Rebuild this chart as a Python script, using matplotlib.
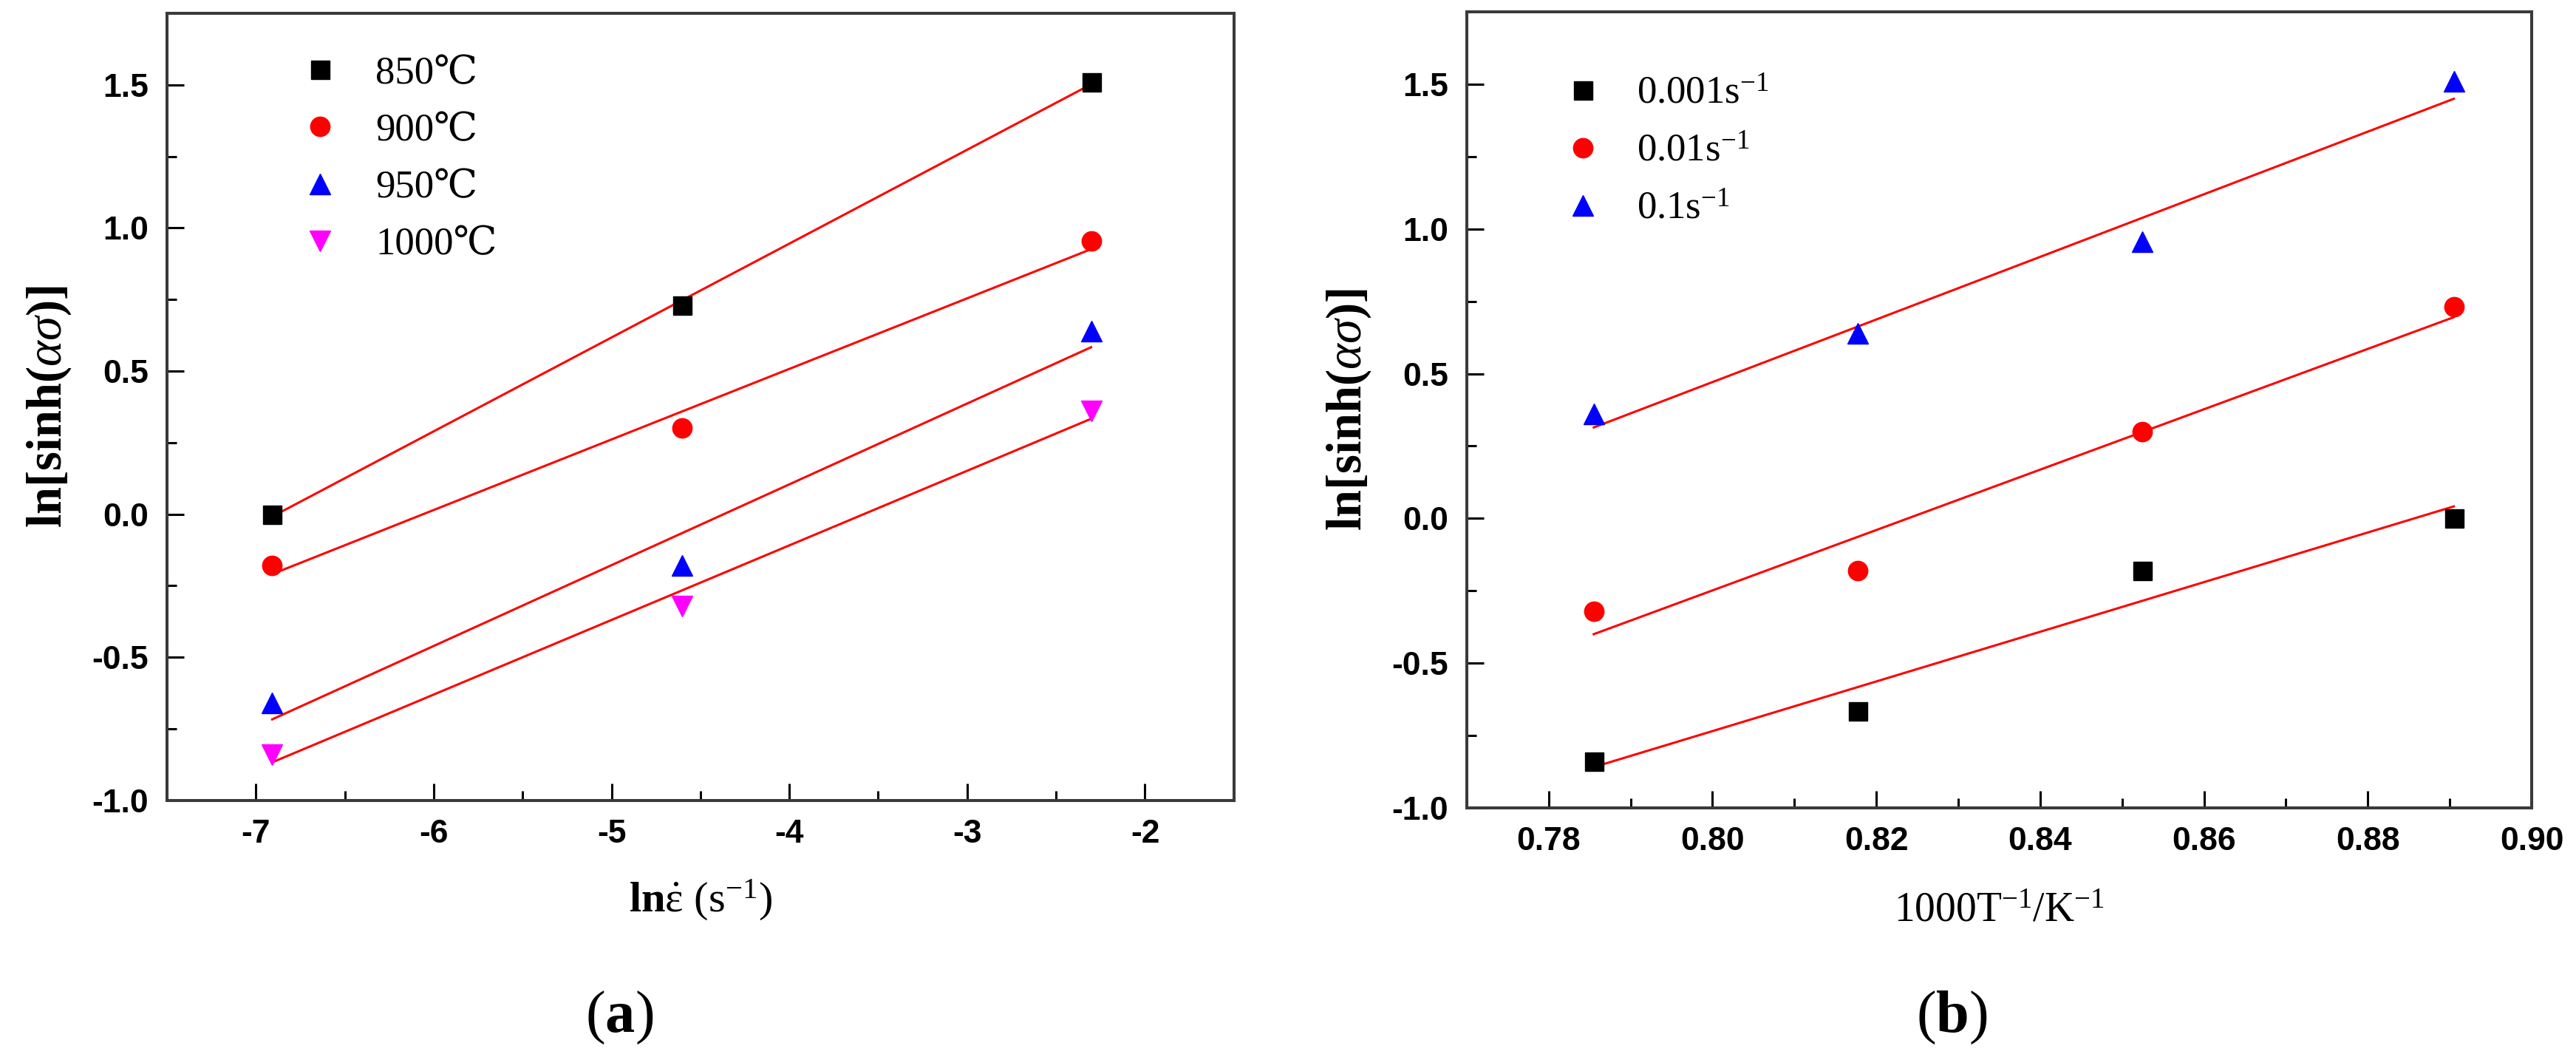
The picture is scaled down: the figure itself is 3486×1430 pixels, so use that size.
import matplotlib
matplotlib.use("Agg")
import matplotlib.pyplot as plt
from matplotlib.ticker import MultipleLocator, FormatStrFormatter
import numpy as np

plt.rcParams['mathtext.fontset'] = 'custom'
plt.rcParams['mathtext.rm'] = 'Liberation Serif'
plt.rcParams['mathtext.it'] = 'Liberation Serif:italic'
plt.rcParams['mathtext.bf'] = 'Liberation Serif:bold'

serif = ['Liberation Serif', 'DejaVu Serif', 'Noto Sans CJK SC']
sans_bold = 'Liberation Sans'

# (a) ln[sinh(ασ)] vs ln(strain rate)
ln_rate = [-6.908, -4.605, -2.303]
temps_a = ['850℃', '900℃', '950℃', '1000℃']
vals_850 = [0.00, 0.73, 1.51]
vals_900 = [-0.18, 0.30, 0.955]
vals_950 = [-0.66, -0.18, 0.64]
vals_1000 = [-0.84, -0.32, 0.36]

# (b) ln[sinh(ασ)] vs 1000/T
inv_T = [0.7855, 0.8177, 0.8525, 0.8905]
rates_b = ['0.001s$^{-1}$', '0.01s$^{-1}$', '0.1s$^{-1}$']
vals_0001 = [-0.84, -0.665, -0.18, 0.00]
vals_001 = [-0.32, -0.18, 0.30, 0.73]
vals_01 = [0.36, 0.64, 0.955, 1.51]

colors = ['#000000', '#ff0000', '#0000ff', '#ff00ff']
markers = ['s', 'o', '^', 'v']
msizes = [18, 19, 20, 20]

fig = plt.figure(figsize=(34.86, 14.30), dpi=100)
ax1 = fig.add_axes([0.0648, 0.2427, 0.4142, 0.7448])
ax2 = fig.add_axes([0.5694, 0.2357, 0.4134, 0.7531])


def style_axes(ax):
    for sp in ax.spines.values():
        sp.set_linewidth(2.9)
        sp.set_color('#3a3a3a')
    ax.tick_params(which='major', direction='in', length=16.5, width=2.2,
                   color='black', pad=18, labelsize=32)
    ax.tick_params(which='minor', direction='in', length=9.5, width=2.2,
                   color='black')
    ax.tick_params(top=False, right=False, which='both')
    for lab in ax.get_xticklabels() + ax.get_yticklabels():
        lab.set_fontfamily(sans_bold)
        lab.set_fontweight('bold')


def fit_line(ax, x, y):
    k, b = np.polyfit(x, y, 1)
    xs = np.array([min(x), max(x)])
    ax.plot(xs, k * xs + b, color='#ff0000', lw=2.2, zorder=2)


series_a = [vals_850, vals_900, vals_950, vals_1000]
for i, ys in enumerate(series_a):
    ax1.plot(ln_rate, ys, ls='none', marker=markers[i], ms=msizes[i],
             color=colors[i], mec=colors[i], label=temps_a[i], zorder=3)
    fit_line(ax1, ln_rate, ys)

ax1.set_xlim(-7.5, -1.5)
ax1.set_ylim(-1.0, 1.75)
ax1.xaxis.set_major_locator(MultipleLocator(1))
ax1.xaxis.set_minor_locator(MultipleLocator(0.5))
ax1.yaxis.set_major_locator(MultipleLocator(0.5))
ax1.yaxis.set_minor_locator(MultipleLocator(0.25))
ax1.xaxis.set_major_formatter(FormatStrFormatter('%d'))
ax1.yaxis.set_major_formatter(FormatStrFormatter('%.1f'))
style_axes(ax1)
ax1.set_xlabel(r'$\mathbf{ln}\dot{\mathrm{\varepsilon}}$ (s$^{-1}$)',
               fontfamily=serif, fontsize=42, labelpad=28)
ax1.set_ylabel(r'ln[sinh($\alpha\sigma$)]', fontfamily=serif,
               fontweight='bold', fontsize=48, labelpad=18)
ax1.legend(loc='upper left', bbox_to_anchor=(0.1253, 0.9455), frameon=False,
           prop={'family': serif, 'size': 38}, handlelength=1.0,
           handletextpad=0.92, labelspacing=0.55, borderpad=0,
           borderaxespad=0, numpoints=1)

series_b = [vals_0001, vals_001, vals_01]
for i, ys in enumerate(series_b):
    ax2.plot(inv_T, ys, ls='none', marker=markers[i], ms=msizes[i],
             color=colors[i], mec=colors[i], label=rates_b[i], zorder=3)
    fit_line(ax2, inv_T, ys)

ax2.set_xlim(0.77, 0.90)
ax2.set_ylim(-1.0, 1.75)
ax2.xaxis.set_major_locator(MultipleLocator(0.02))
ax2.xaxis.set_minor_locator(MultipleLocator(0.01))
ax2.yaxis.set_major_locator(MultipleLocator(0.5))
ax2.yaxis.set_minor_locator(MultipleLocator(0.25))
ax2.xaxis.set_major_formatter(FormatStrFormatter('%.2f'))
ax2.yaxis.set_major_formatter(FormatStrFormatter('%.1f'))
style_axes(ax2)
ax2.set_xlabel(r'1000T$^{-1}$/K$^{-1}$', fontfamily=serif, fontsize=40,
               labelpad=34)
ax2.set_ylabel(r'ln[sinh($\alpha\sigma$)]', fontfamily=serif,
               fontweight='bold', fontsize=48, labelpad=18)
ax2.legend(loc='upper left', bbox_to_anchor=(0.0909, 0.919), frameon=False,
           prop={'family': serif, 'size': 38}, handlelength=1.0,
           handletextpad=0.88, labelspacing=0.57, borderpad=0,
           borderaxespad=0, numpoints=1)

fig.text(838 / 3486, 1 - 1377 / 1430, r'($\mathbf{a}$)', fontfamily=serif,
         fontsize=58, ha='center', va='center')
fig.text(2641 / 3486, 1 - 1377 / 1430, r'($\mathbf{b}$)', fontfamily=serif,
         fontsize=58, ha='center', va='center')

fig.savefig('out.png', dpi=100)
